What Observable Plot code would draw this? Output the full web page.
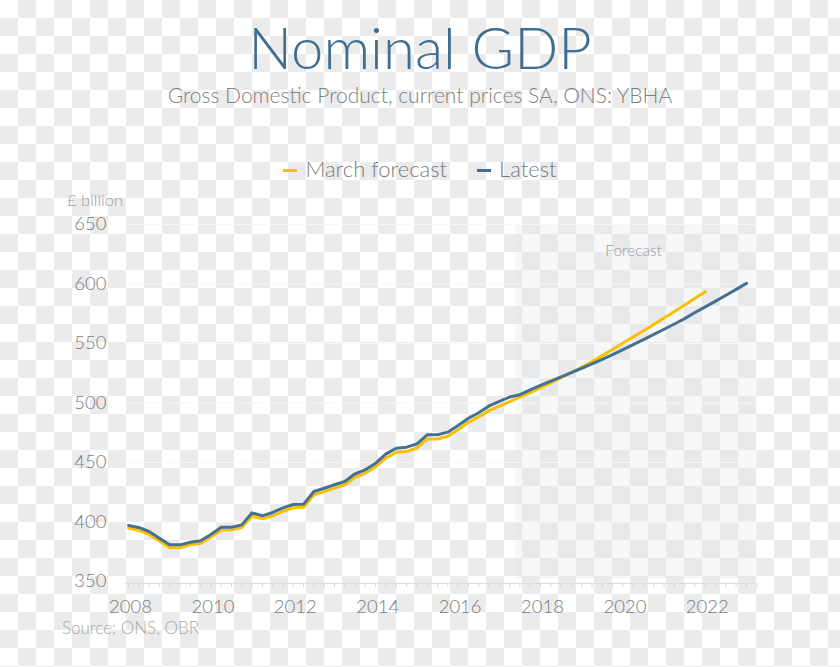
<!DOCTYPE html>
<html>
<head>
<meta charset="utf-8">
<script src="https://cdn.jsdelivr.net/npm/d3@7"></script>
<script src="https://cdn.jsdelivr.net/npm/@observablehq/plot@0.6"></script>
<style>
  html, body { margin: 0; padding: 0; }
  body {
    width: 840px; height: 667px; position: relative; overflow: hidden;
    background: repeating-conic-gradient(#ebebeb 0 25%, #ffffff 0 50%) 0 0 / 36px 36px;
    font-family: Lato, "Open Sans", sans-serif; font-weight: 300;
  }
  .abs { position: absolute; white-space: nowrap; line-height: 1; }
  #title { left: 0; width: 840px; text-align: center; top: 18px; font-size: 58px; color: #3f6e91; }
  #subtitle { left: 0; width: 840px; text-align: center; top: 84px; font-size: 21px; color: #808080; }
  #legend { left: 0; width: 840px; text-align: center; top: 158px; font-size: 22px; color: #7a7a7a; }
  #legend .sw { display: inline-block; width: 14px; height: 3px; vertical-align: middle; margin-right: 8px; position: relative; top: -1px; }
  #legend .item { margin: 0 15px; }
  #unit { left: 67px; top: 192px; font-size: 16.5px; color: #9c9c9c; }
  #caption { left: 62px; top: 619px; font-size: 17px; color: #a8a8a8; }
  #chart { position: absolute; left: 0; top: 185px; }
</style>
</head>
<body>
<div id="title" class="abs">Nominal GDP</div>
<div id="subtitle" class="abs">Gross Domestic Product, current prices SA, ONS: YBHA</div>
<div id="legend" class="abs"></div>
<div id="unit" class="abs">£ billion</div>
<div id="chart"></div>
<div id="caption" class="abs">Source: ONS, OBR</div>
<script>
// ---- Data (quarterly, £ billion) ----
const startYear = 2008;          // first quarter: 2008 Q1
const seriesNames = ["March forecast", "Latest"];
const seriesColors = ["#fbbf00", "#437093"];

// Latest: 2008 Q1 .. 2023 Q1
const latest = [
  397.1, 395.4, 392.0, 386.4, 380.8, 380.8, 383.0, 384.2,
  389.5, 395.6, 395.6, 397.6, 407.7, 405.2, 408.0, 411.9,
  414.7, 415.0, 425.6, 428.4, 431.3, 434.0, 440.5, 443.9,
  449.4, 457.3, 462.0, 462.9, 465.7, 473.3, 473.3, 475.5,
  481.1, 487.2, 491.8, 497.5, 501.3, 505.0, 507.0, 511.0,
  514.8, 518.4, 522.0, 525.6, 529.2, 532.8, 536.7, 540.7,
  544.8, 549.0, 553.3, 557.6, 562.0, 566.4, 570.9, 576.0,
  580.8, 585.6, 590.5, 595.5, 600.5
];

// March forecast: 2008 Q1 .. 2022 Q1
const marchForecast = [
  394.8, 393.0, 389.6, 384.0, 378.5, 378.4, 380.8, 382.0,
  387.2, 393.3, 393.4, 395.3, 405.0, 402.6, 405.2, 409.0,
  411.9, 412.3, 422.8, 425.5, 428.5, 431.2, 437.6, 441.0,
  446.5, 453.9, 458.6, 459.4, 462.2, 469.8, 469.8, 472.0,
  477.6, 483.8, 488.4, 493.6, 497.4, 501.2, 505.0, 508.8,
  512.8, 516.9, 521.2, 525.6, 530.0, 534.8, 539.8, 545.0,
  550.4, 555.5, 560.7, 566.0, 571.4, 576.9, 582.4, 588.0,
  593.5
];

const yTicks = [350, 400, 450, 500, 550, 600, 650];
const xTicks = [2008, 2010, 2012, 2014, 2016, 2018, 2020, 2022];
const forecastPeriod = [{ start: 2017.4, end: 2023.22, label: "Forecast" }];

// ---- Build table ----
const toRows = (vals, name) => vals.map((v, i) => ({ t: startYear + i / 4, v, series: name }));
const rowsMarch = toRows(marchForecast, seriesNames[0]);
const rowsLatest = toRows(latest, seriesNames[1]);
const quarterTicks = d3.range(0, 62).map(i => startYear + i / 4);

// ---- Legend ----
document.getElementById("legend").innerHTML = seriesNames.map((n, i) =>
  `<span class="item"><span class="sw" style="background:${seriesColors[i]}"></span>${n}</span>`).join("");

// ---- Chart ----
const chart = Plot.plot({
  width: 840,
  height: 430,
  marginLeft: 128,
  marginRight: 94,
  marginTop: 39,
  marginBottom: 34,
  style: { background: "transparent", fontFamily: "Lato, 'Open Sans', sans-serif", fontWeight: 300, color: "#7a7a7a", overflow: "visible" },
  x: { domain: [2008, 2023], label: null },
  y: { domain: [350, 650], label: null },
  marks: [
    Plot.rect(forecastPeriod, { x1: "start", x2: "end", y1: 352, y2: 649.5, fill: "#dfe4ec", fillOpacity: 0.3 }),
    Plot.ruleY(yTicks.slice(1), { x1: 2007.93, x2: 2023.22, stroke: "#f7f7f7", strokeWidth: 1 }),
    Plot.ruleY([350], { x1: 2007.93, x2: 2023.22, y: d => d - 1.6, stroke: "#dcdcdc", strokeWidth: 1 }),
    Plot.ruleX(quarterTicks, { x: d => d, y1: 348.4, y2: 345.0, stroke: "#d4d4d4", strokeWidth: 1 }),
    Plot.text(forecastPeriod, { x: 2020.26, y: 628, text: "label", fill: "#9c9c9c", fontSize: 15.5, fontWeight: 300 }),
    Plot.line(rowsMarch, { x: "t", y: "v", stroke: seriesColors[0], strokeWidth: 3, strokeLinejoin: "round" }),
    Plot.line(rowsLatest, { x: "t", y: "v", stroke: seriesColors[1], strokeWidth: 3, strokeLinejoin: "round" }),
    Plot.axisY({ ticks: yTicks, tickSize: 0, tickPadding: 22, fontSize: 18.5, tickFormat: d => String(d), label: null, fill: "#7a7a7a" }),
    Plot.axisX({ ticks: xTicks, tickSize: 0, tickPadding: 18, fontSize: 18.5, tickFormat: d => String(d), label: null, fill: "#7a7a7a", dx: 2 })
  ]
});
document.getElementById("chart").appendChild(chart);
</script>
</body>
</html>
